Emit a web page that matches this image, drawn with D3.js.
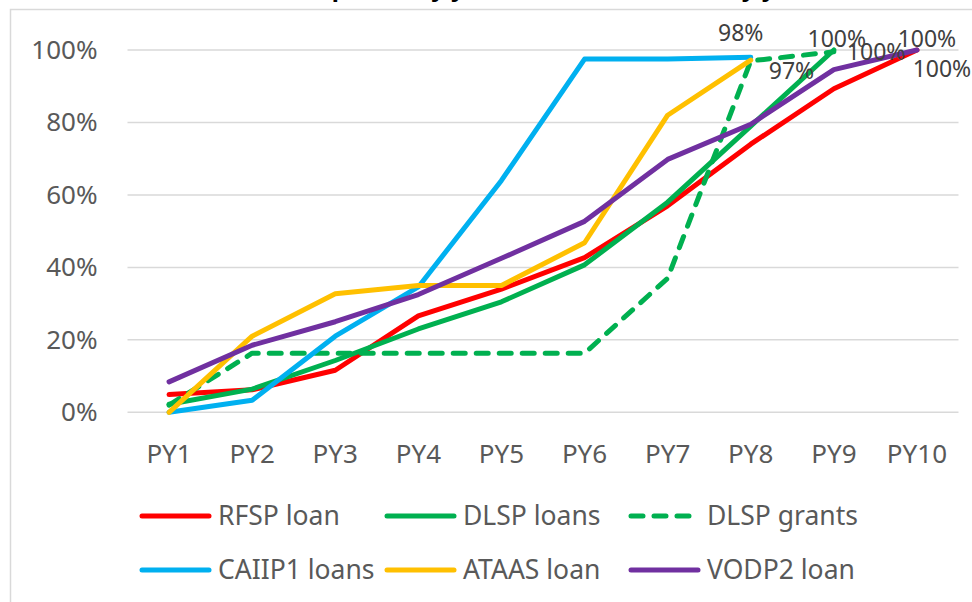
<!DOCTYPE html>
<html>
<head>
<meta charset="utf-8">
<script src="https://cdn.jsdelivr.net/npm/d3@7"></script>
<style>
    body { margin: 0; background: #fff; }
    svg { display: block; font-family: 'Noto Sans', 'Open Sans', sans-serif; }
</style>
</head>
<body>
<div class="graphContainer"></div>
<script>
// Chart data
const years = ['PY1', 'PY2', 'PY3', 'PY4', 'PY5', 'PY6', 'PY7', 'PY8', 'PY9', 'PY10'];
const rfspLoan = [0.049, 0.062, 0.116, 0.266, 0.34, 0.427, 0.57, 0.74, 0.893, 1.0];
const dlspLoans = [0.022, 0.064, 0.143, 0.23, 0.305, 0.407, 0.58, 0.79, 1.0, null];
const dlspGrants = [0.02, 0.163, 0.163, 0.163, 0.163, 0.163, 0.37, 0.97, 0.995, null];
const caiip1Loans = [0.0, 0.033, 0.21, 0.346, 0.64, 0.975, 0.975, 0.98, null, null];
const ataasLoan = [0.0, 0.21, 0.327, 0.35, 0.35, 0.468, 0.82, 0.972, null, null];
const vodp2Loan = [0.084, 0.185, 0.25, 0.325, 0.425, 0.527, 0.698, 0.795, 0.946, 1.0];
const yTicks = [0, 0.2, 0.4, 0.6, 0.8, 1.0];

const series = [
    { name: 'RFSP loan', values: rfspLoan, color: '#ff0000', dash: null },
    { name: 'DLSP loans', values: dlspLoans, color: '#00b050', dash: null },
    { name: 'DLSP grants', values: dlspGrants, color: '#00b050', dash: '12 11' },
    { name: 'CAIIP1 loans', values: caiip1Loans, color: '#00b0f0', dash: null },
    { name: 'ATAAS loan', values: ataasLoan, color: '#ffc000', dash: null },
    { name: 'VODP2 loan', values: vodp2Loan, color: '#7030a0', dash: null }
];

// Data labels: series index, point index, offset and anchor
const labels = [
    { s: 3, i: 7, dx: -10, dy: -16, anchor: 'middle' },
    { s: 4, i: 7, dx: 18, dy: 19, anchor: 'start' },
    { s: 1, i: 8, dx: 3, dy: -3, anchor: 'middle' },
    { s: 2, i: 8, dx: 13, dy: 8, anchor: 'start' },
    { s: 5, i: 9, dx: 10, dy: -3, anchor: 'middle' },
    { s: 0, i: 9, dx: 25, dy: 27, anchor: 'middle' }
];

const width = 972;
const height = 602;
const plot = { left: 127.5, right: 958.5, top: 50, bottom: 412.3 };

const svg = d3.select('.graphContainer')
    .append('svg')
    .attr('width', width)
    .attr('height', height);

// Chart area border
svg.append('rect')
    .attr('x', 10.5).attr('y', 9.5)
    .attr('width', 1000).attr('height', 700)
    .attr('fill', 'none')
    .attr('stroke', '#d9d9d9')
    .attr('stroke-width', 1.5);

// Title (cut off at the top of the picture)
svg.append('text')
    .attr('x', 486).attr('y', -4)
    .attr('text-anchor', 'middle')
    .attr('font-size', 24)
    .attr('font-weight', 'bold')
    .attr('fill', '#000')
    .text('Disbursement profile by year, share of the total by year');

// Scales
const x = d3.scaleBand()
    .domain(years)
    .range([plot.left, plot.right])
    .padding(0);

const y = d3.scaleLinear()
    .domain([0, 1])
    .range([plot.bottom, plot.top]);

const cx = d => x(d) + x.bandwidth() / 2;

// Gridlines
svg.append('g')
    .selectAll('line')
    .data(yTicks)
    .enter()
    .append('line')
    .attr('x1', plot.left).attr('x2', plot.right)
    .attr('y1', d => y(d)).attr('y2', d => y(d))
    .attr('stroke', '#d9d9d9')
    .attr('stroke-width', 1.5);

// Axes
const yAxis = svg.append('g')
    .attr('transform', `translate(${plot.left},0)`)
    .call(d3.axisLeft(y).tickValues(yTicks).tickSize(0).tickPadding(30).tickFormat(d3.format('.0%')));

const xAxis = svg.append('g')
    .attr('transform', `translate(0,${plot.bottom})`)
    .call(d3.axisBottom(x).tickSize(0).tickPadding(32));

[yAxis, xAxis].forEach(g => {
    g.select('.domain').remove();
    g.selectAll('text')
        .attr('font-family', "'Noto Sans', sans-serif")
        .attr('font-size', 26)
        .attr('fill', '#595959');
});

// Lines
const line = d3.line()
    .defined(d => d.v !== null)
    .x(d => cx(d.year))
    .y(d => y(d.v));

series.forEach(s => {
    const pts = years.map((year, i) => ({ year, v: s.values[i] }));
    svg.append('path')
        .datum(pts)
        .attr('fill', 'none')
        .attr('stroke', s.color)
        .attr('stroke-width', 5)
        .attr('stroke-linecap', 'round')
        .attr('stroke-linejoin', 'round')
        .attr('stroke-dasharray', s.dash)
        .attr('d', line);
});

// Data labels
svg.append('g')
    .selectAll('text')
    .data(labels)
    .enter()
    .append('text')
    .attr('x', d => cx(years[d.i]) + d.dx)
    .attr('y', d => y(series[d.s].values[d.i]) + d.dy)
    .attr('text-anchor', d => d.anchor)
    .attr('font-size', 23)
    .attr('fill', '#404040')
    .text(d => d3.format('.0%')(series[d.s].values[d.i]));

// Legend
const legendCols = [140, 385, 629];
const legendRows = [516, 570];
const legend = svg.append('g')
    .selectAll('g')
    .data(series)
    .enter()
    .append('g')
    .attr('transform', (d, i) => `translate(${legendCols[i % 3]},${legendRows[Math.floor(i / 3)]})`);

legend.append('line')
    .attr('x1', 2).attr('x2', 69)
    .attr('stroke', d => d.color)
    .attr('stroke-width', 5)
    .attr('stroke-linecap', 'round')
    .attr('stroke-dasharray', d => d.dash);

legend.append('text')
    .attr('x', 78)
    .attr('dy', '0.35em')
    .attr('font-size', 26.5)
    .attr('fill', '#595959')
    .text(d => d.name);
</script>
</body>
</html>
